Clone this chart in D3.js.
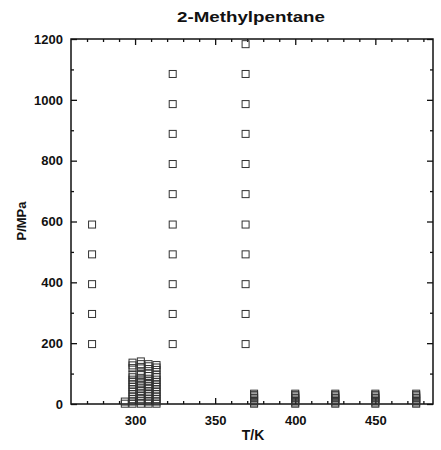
<!DOCTYPE html>
<html><head><meta charset="utf-8">
<script src="https://cdn.jsdelivr.net/npm/d3@7"></script>
<style>
body{margin:0;background:#fff;}
text{font-family:"Liberation Sans",Arial,sans-serif;font-weight:bold;fill:#111;}
</style></head>
<body><svg id="c" width="441" height="450"></svg>
<script>
const title = "2-Methylpentane";
const xLabel = "T/K", yLabel = "P/MPa";
const xMajorTicks = [300, 350, 400, 450];
const yMajorTicks = [0, 200, 400, 600, 800, 1000, 1200];
// isotherms: temperature (K) and pressures (MPa)
const temps = [273.15, 293.6, 298.4, 303.6, 308.4, 313.4, 323.5, 369.0, 374.3, 400, 425, 450, 475.5];
const pressures = [
  [197, 296, 394, 492, 590],
  [1, 8],
  [1, 8, 16, 24, 32, 40, 48, 56, 64, 72, 80, 88, 97, 118, 127, 136],
  [1, 9, 17, 26, 34, 43, 51, 60, 68, 77, 86, 95, 104, 122, 131, 140],
  [1, 8, 16, 25, 33, 41, 50, 58, 66, 75, 83, 92, 100, 115, 124, 131],
  [1, 8, 16, 24, 32, 40, 48, 56, 64, 72, 80, 88, 96, 112, 120, 128],
  [197, 296, 394, 492, 590, 690, 789, 888, 986, 1085],
  [197, 296, 394, 492, 590, 690, 789, 888, 986, 1085, 1183],
  [1, 5, 10, 15, 20, 25, 30, 34],
  [1, 5, 10, 15, 20, 25, 30, 34],
  [1, 5, 10, 15, 20, 25, 30, 34],
  [1, 5, 10, 15, 20, 25, 30, 34],
  [1, 5, 10, 15, 20, 25, 30, 34]
];

const svg = d3.select("#c");
const x = d3.scaleLinear().domain([260, 486]).range([71, 433]);
const y = d3.scaleLinear().domain([0, 1200]).range([404, 39]);
const [x0, x1] = x.range(), [y0, y1] = y.range();

const xMinor = d3.range(270, 481, 10).filter(v => !xMajorTicks.includes(v));
const yMinor = d3.range(100, 1200, 200);

function axis(gen, tr, vals, size, labels) {
  const g = svg.append("g").attr("transform", tr)
    .call(gen.tickValues(vals).tickSizeInner(size).tickSizeOuter(0).tickPadding(labels ? 6 + Math.max(0, size) : 0)
      .tickFormat(labels ? d3.format("d") : ""));
  g.select(".domain").remove();
  g.selectAll(".tick line").attr("stroke", "#111").attr("stroke-width", 1.3);
  g.selectAll(".tick text").style("font-size", "13px").attr("fill", "#111");
  return g;
}
// bottom
axis(d3.axisBottom(x), `translate(0,${y0})`, xMajorTicks, -6, true)
  .selectAll(".tick text").attr("dy", "0.95em").attr("y", 9);
axis(d3.axisBottom(x), `translate(0,${y0})`, xMinor, -3, false);
// top
axis(d3.axisTop(x), `translate(0,${y1})`, xMajorTicks, -6, false);
axis(d3.axisTop(x), `translate(0,${y1})`, xMinor, -3, false);
// left
axis(d3.axisLeft(y), `translate(${x0},0)`, yMajorTicks, -6, true)
  .selectAll(".tick text").attr("x", -8);
axis(d3.axisLeft(y), `translate(${x0},0)`, yMinor, -3, false);
// right
axis(d3.axisRight(y), `translate(${x1},0)`, yMajorTicks, -6, false);
axis(d3.axisRight(y), `translate(${x1},0)`, yMinor, -3, false);

// frame
svg.append("rect").attr("x", x0).attr("y", y1).attr("width", x1 - x0).attr("height", y0 - y1)
  .attr("fill", "none").attr("stroke", "#111").attr("stroke-width", 1.5);

// data squares
const pts = [];
temps.forEach((t, i) => pressures[i].forEach(p => pts.push({t, p})));
const s = 7;
svg.append("g").selectAll("rect").data(pts).join("rect")
  .attr("x", d => x(d.t) - s / 2).attr("y", d => y(d.p) - s / 2)
  .attr("width", s).attr("height", s)
  .attr("fill", "none").attr("stroke", "#333").attr("stroke-width", 1);

// titles
svg.append("text").attr("x", 251).attr("y", 22).attr("text-anchor", "middle")
  .attr("textLength", 148).attr("lengthAdjust", "spacingAndGlyphs")
  .style("font-size", "15px").text(title);
svg.append("text").attr("x", 253).attr("y", 440).attr("text-anchor", "middle")
  .style("font-size", "14px").text(xLabel);
svg.append("text").attr("transform", `translate(26,221) rotate(-90)`).attr("text-anchor", "middle")
  .style("font-size", "13px").text(yLabel);
</script></body></html>
